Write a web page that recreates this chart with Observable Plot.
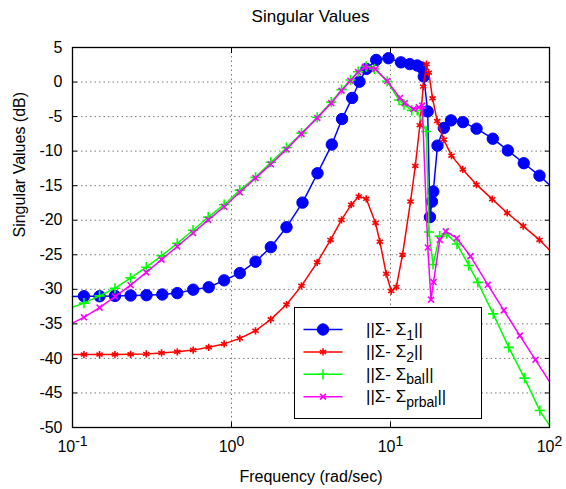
<!DOCTYPE html>
<html><head><meta charset="utf-8">
<script src="https://cdn.jsdelivr.net/npm/d3@7"></script>
<script src="https://cdn.jsdelivr.net/npm/@observablehq/plot@0.6"></script>
<style>
body{margin:0;background:#fff;font-family:"Liberation Sans",Arial,sans-serif;}
#wrap{position:relative;width:566px;height:489px;overflow:hidden;}
#title{position:relative;height:34px;}
#title span{position:absolute;left:310.5px;top:8px;transform:translateX(-50%);font-size:17px;line-height:17px;white-space:nowrap;color:#000;}
#legend{position:absolute;left:294px;top:307px;width:186px;height:110px;border:1.5px solid #000;background:#fff;}
#legend svg{display:block;}
</style></head><body>
<div id="wrap"><div id="title"><span>Singular Values</span></div><div id="chart"></div><div id="legend"></div></div>
<script>
// ---- data (frequency in rad/sec, singular values in dB) ----
const freq1 = [0.1,0.118,0.148,0.185,0.232,0.292,0.367,0.456,0.574,0.719,0.899,1.128,1.416,1.767,2.218,2.796,3.475,4.275,4.955,5.74,6.38,7.06,8.13,9.71,11.63,13.21,14.71,15.67,16.19,17.13,17.71,18.23,18.58,19.75,21.64,24.03,28.53,34.77,43.99,54.69,68.9,86.5,100];
const sv1   = [-31.05,-31.0,-31.0,-30.95,-30.9,-30.85,-30.75,-30.55,-30.05,-29.7,-28.7,-27.65,-26.0,-23.9,-21.0,-17.45,-13.2,-9.05,-5.35,-2.3,0.05,1.9,3.2,3.45,2.85,2.6,2.4,2.1,0.8,-4.25,-19.55,-17.3,-15.85,-9.2,-6.65,-5.55,-5.8,-6.75,-8.2,-9.9,-11.75,-13.55,-14.9];

const freq2 = [0.1,0.118,0.148,0.185,0.232,0.291,0.363,0.456,0.574,0.719,0.899,1.128,1.416,1.767,2.218,2.755,3.459,4.195,4.92,5.66,6.32,7.04,8.05,8.57,9.40,10.10,10.88,11.90,13.36,14.32,15.29,16.06,16.84,17.41,18.38,19.67,21.64,24.19,28.49,34.75,43.62,54.2,68.3,86.5,100];
const sv2   = [-39.45,-39.45,-39.45,-39.45,-39.4,-39.35,-39.2,-39.05,-38.8,-38.4,-37.9,-37.1,-36.0,-34.35,-32.2,-29.5,-26.1,-22.85,-19.95,-17.75,-16.55,-16.9,-20.4,-23.1,-27.75,-30.25,-29.65,-25.0,-17.3,-12.15,-6.25,-0.65,2.6,1.35,-2.35,-5.65,-8.35,-10.65,-12.65,-14.85,-16.95,-18.95,-20.85,-22.85,-24.3];

const freqBal = [0.1,0.118,0.148,0.185,0.232,0.291,0.363,0.456,0.573,0.714,0.899,1.128,1.416,1.767,2.218,2.755,3.459,4.24,4.92,5.60,6.26,7.03,7.93,9.53,11.31,12.16,13.61,14.72,16.77,17.46,18.51,20.39,22.50,26.19,31.08,35.40,44.25,55.46,69.6,86.9,100];
const svBal   = [-32.6,-32.0,-30.95,-29.85,-28.35,-26.8,-25.15,-23.35,-21.45,-19.55,-17.75,-15.65,-13.8,-11.6,-9.5,-7.4,-5.1,-2.9,-1.1,0.3,1.5,2.25,1.9,0.1,-2.6,-3.25,-4.1,-4.1,-7.15,-21.7,-26.4,-22.3,-21.95,-23.45,-26.55,-29.0,-33.55,-38.4,-42.85,-47.55,-49.7];

const freqPr = [0.1,0.118,0.148,0.185,0.232,0.291,0.363,0.456,0.573,0.714,0.899,1.128,1.416,1.767,2.218,2.755,3.459,4.24,4.92,5.60,6.26,6.91,8.05,9.53,11.47,12.30,13.95,15.07,15.83,17.16,17.97,18.64,20.42,22.27,26.12,31.85,40.93,51.60,65.06,81.6,100];
const svPr   = [-34.9,-34.05,-32.65,-31.05,-29.4,-27.55,-25.7,-23.8,-21.85,-19.95,-18.05,-15.95,-13.9,-11.9,-9.75,-7.5,-5.2,-3.05,-1.25,0.2,1.45,2.2,1.9,0.15,-2.3,-3.05,-3.9,-3.65,-3.4,-23.95,-31.5,-28.95,-22.85,-21.6,-22.6,-25.2,-29.35,-33.05,-36.7,-40.2,-43.35];

const xTicks = [0.1, 1, 10, 100];
const yTicks = [-50,-45,-40,-35,-30,-25,-20,-15,-10,-5,0,5];
const legendMain = "||\u03A3- \u03A3";
const legendSubs = ["1", "2", "bal", "prbal"];

// ---- series styles ----
const series = [
  {f: freq1, v: sv1, color: "#0000ff", symbol: "circle", r: 5.7, filled: true},
  {f: freq2, v: sv2, color: "#ff0000", symbol: "asterisk", r: 3.4},
  {f: freqBal, v: svBal, color: "#00ff00", symbol: "plus", r: 3.4},
  {f: freqPr, v: svPr, color: "#ff00ff", symbol: "times", r: 2.8}
];

const grid = {stroke: "#7a7a7a", strokeDasharray: "1.5,3", strokeWidth: 1};
const marks = [
  Plot.ruleY(yTicks.filter(d => d > -50 && d < 5), grid),
  Plot.ruleX(xTicks.filter(d => d > 0.1 && d < 100), grid)
];
for (const s of series) {
  const data = s.f.map((f, i) => ({f, v: s.v[i], i}));
  marks.push(Plot.line(data, {x: "f", y: "v", stroke: s.color, strokeWidth: 1.5}));
  marks.push(Plot.dot(data.filter(d => d.i > 0 && d.i < data.length - 1), {
    x: "f", y: "v", symbol: s.symbol, r: s.r, stroke: s.color,
    fill: s.filled ? s.color : "none", strokeWidth: s.filled ? 1 : 1.6
  }));
}
marks.push(
  Plot.frame({stroke: "#000", strokeWidth: 1.3}),
  Plot.axisY(yTicks, {anchor: "left", tickSize: -5, tickPadding: 15, label: null, tickFormat: d => String(d)}),
  Plot.axisY(yTicks, {anchor: "right", tickSize: -5, label: null, tickFormat: () => ""}),
  Plot.axisX(xTicks, {anchor: "bottom", tickSize: -5, tickPadding: 18.6, label: null, tickFormat: d => "10^" + Math.round(Math.log10(d))}),
  Plot.axisX(xTicks, {anchor: "top", tickSize: -5, label: null, tickFormat: () => ""}),
  Plot.text(["Frequency (rad/sec)"], {text: d => d, frameAnchor: "bottom", dy: 49, lineAnchor: "middle"}),
  Plot.text(["Singular Values (dB)"], {text: d => d, frameAnchor: "left", dx: -53, rotate: -90, lineAnchor: "middle"})
);

const chart = Plot.plot({
  width: 566, height: 455,
  marginLeft: 72, marginRight: 17, marginTop: 13, marginBottom: 62,
  x: {type: "log", domain: [0.1, 100]},
  y: {domain: [-50, 5]},
  style: {fontFamily: "'Liberation Sans', Arial, sans-serif", fontSize: "16px", background: "#fff", color: "#000", overflow: "visible"},
  marks
});
document.getElementById("chart").appendChild(chart);

// superscript exponents on the x tick labels
const NS = "http://www.w3.org/2000/svg";
chart.querySelectorAll("text").forEach(t => {
  const m = /^10\^(-?\d+)$/.exec(t.textContent);
  if (m) {
    t.textContent = "10";
    const ts = document.createElementNS(NS, "tspan");
    ts.setAttribute("dy", "-6");
    ts.setAttribute("font-size", "14");
    ts.textContent = m[1];
    t.appendChild(ts);
  }
});

// legend
const lg = d3.select("#legend").append("svg").attr("width", 186).attr("height", 110)
  .style("font-family", "'Liberation Sans', Arial, sans-serif");
const symMap = {circle: d3.symbolCircle, asterisk: d3.symbolAsterisk, plus: d3.symbolPlus, times: d3.symbolTimes};
series.forEach((s, i) => {
  const y = 21.5 + i * 22.4;
  lg.append("line").attr("x1", 8.5).attr("x2", 47.5).attr("y1", y).attr("y2", y)
    .attr("stroke", s.color).attr("stroke-width", 1.5);
  lg.append("path").attr("transform", `translate(28,${y})`)
    .attr("d", d3.symbol(symMap[s.symbol], s.r * s.r * Math.PI)())
    .attr("fill", s.filled ? s.color : "none").attr("stroke", s.color)
    .attr("stroke-width", s.filled ? 1 : 1.6);
  const t = lg.append("text").attr("x", 71).attr("y", y + 5.5).attr("font-size", 17).attr("fill", "#000");
  t.append("tspan").text(legendMain);
  t.append("tspan").attr("dy", 4.5).attr("font-size", 14).text(legendSubs[i]);
  t.append("tspan").attr("dy", -4.5).attr("font-size", 17).text("||");
});
</script>
</body></html>
